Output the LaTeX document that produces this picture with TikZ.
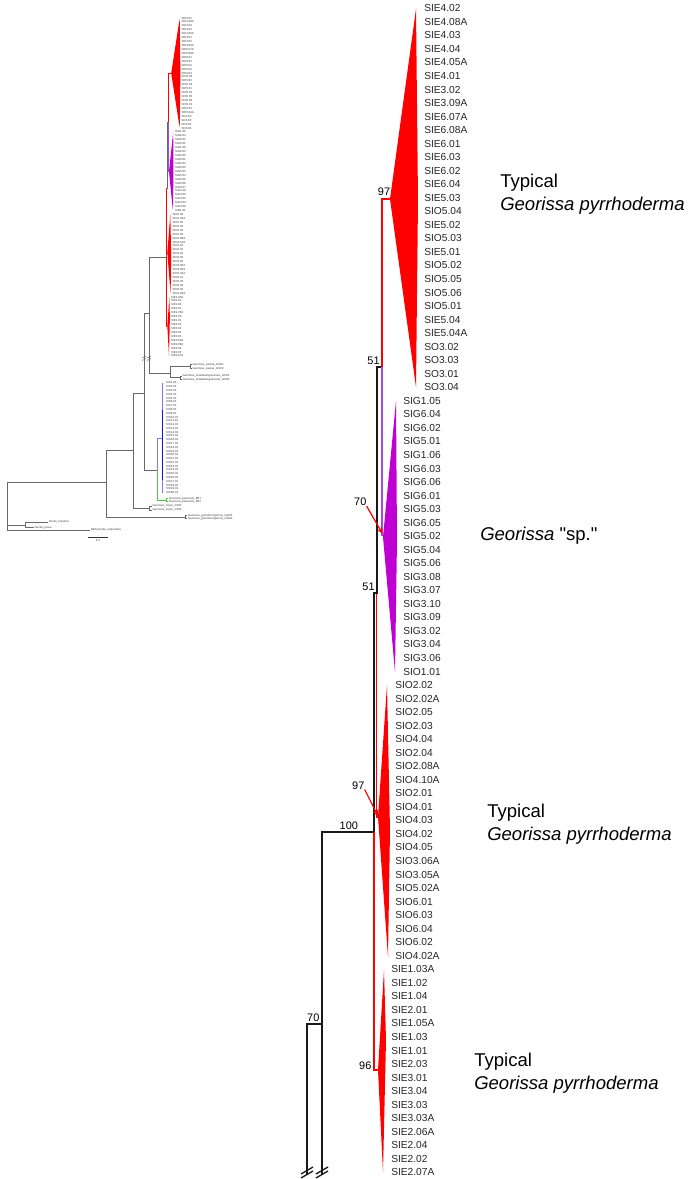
\documentclass[tikz,border=0pt]{standalone}
\usepackage{fontspec}
\setmainfont{Liberation Sans}
\usetikzlibrary{arrows.meta}

\definecolor{cladered}{RGB}{255,0,0}
\definecolor{cladepurple}{RGB}{190,0,210}
\definecolor{linepurple}{RGB}{165,75,215}
\definecolor{cladeblue}{RGB}{20,20,225}
\definecolor{lightblue}{RGB}{120,120,255}
\definecolor{cladegreen}{RGB}{70,200,70}
\definecolor{thumbgray}{RGB}{105,105,105}

\newcommand{\sq}{\XeTeXglyph\XeTeXcharglyph"22\relax}
\newcommand{\tipsA}{SIE4.02,SIE4.08A,SIE4.03,SIE4.04,SIE4.05A,SIE4.01,SIE3.02,SIE3.09A,SIE6.07A,SIE6.08A,SIE6.01,SIE6.03,SIE6.02,SIE6.04,SIE5.03,SIO5.04,SIE5.02,SIO5.03,SIE5.01,SIO5.02,SIO5.05,SIO5.06,SIO5.01,SIE5.04,SIE5.04A,SO3.02,SO3.03,SO3.01,SO3.04}
\newcommand{\tipsB}{SIG1.05,SIG6.04,SIG6.02,SIG5.01,SIG1.06,SIG6.03,SIG6.06,SIG6.01,SIG5.03,SIG6.05,SIG5.02,SIG5.04,SIG5.06,SIG3.08,SIG3.07,SIG3.10,SIG3.09,SIG3.02,SIG3.04,SIG3.06,SIO1.01}
\newcommand{\tipsC}{SIO2.02,SIO2.02A,SIO2.05,SIO2.03,SIO4.04,SIO2.04,SIO2.08A,SIO4.10A,SIO2.01,SIO4.01,SIO4.03,SIO4.02,SIO4.05,SIO3.06A,SIO3.05A,SIO5.02A,SIO6.01,SIO6.03,SIO6.04,SIO6.02,SIO4.02A}
\newcommand{\tipsD}{SIE1.03A,SIE1.02,SIE1.04,SIE2.01,SIE1.05A,SIE1.03,SIE1.01,SIE2.03,SIE3.01,SIE3.04,SIE3.03,SIE3.03A,SIE2.06A,SIE2.04,SIE2.02,SIE2.07A}

\begin{document}
\begin{tikzpicture}[x=0.75pt,y=-0.75pt,
  tiplab/.style={anchor=west,inner sep=0pt,font=\fontsize{7.65}{9}\selectfont,text=black!85},
  thumblab/.style={anchor=west,inner sep=0.2pt,font=\fontsize{2.2}{2.6}\selectfont,text=black!75},
  boot/.style={inner sep=0pt,font=\fontsize{8.2}{9}\selectfont},
  bigtag/.style={anchor=west,align=left,inner sep=0pt,font=\fontsize{13.9}{17.25}\selectfont},
  branch/.style={line width=1pt,black!90},
  redbranch/.style={line width=1pt,cladered},
  twig/.style={line width=0.35pt,thumbgray},
  bootarrow/.style={cladered,line width=0.9pt,-{Stealth[length=5pt,width=4pt]}}]

 \useasboundingbox (0,0) rectangle (693,1179);

 % ---- main tree: collapsed clades ----
 \fill[cladered] (390,199) -- (416,9) -- (418,200) -- (416,387) -- cycle;
 \fill[cladepurple] (383,537) -- (396,401) -- (397,540) -- (395,672) -- cycle;
 \fill[cladered] (378,817) -- (387,685) -- (390,830) -- (388,957) -- cycle;
 \fill[cladered] (378,1070) -- (384,970) -- (386,1040) -- (383,1172) -- cycle;

 % ---- main tree: branches ----
 \draw[branch] (307,1174) -- (307,1024) -- (322,1024);
 \draw[branch] (322,1174) -- (322,832) -- (374,832) -- (374,593) -- (377,593) -- (377,367) -- (382,367);
 \draw[redbranch] (374,832) -- (374,1070) -- (378,1070);
 \draw[redbranch] (376.5,594) -- (376.5,817) -- (379,817);
 \draw[redbranch] (382,367) -- (382,199) -- (391,199);
 \draw[line width=1pt,linepurple] (382,367) -- (382,536);
 \foreach \bx in {307,322} {
   \draw[branch] (\bx-6,1174) -- (\bx+6,1167);
   \draw[branch] (\bx-6,1178) -- (\bx+6,1171);
 }

 % ---- support values ----
 \node[boot] (b97a) at (384,192) {97};
 \node[boot] (b51a) at (373.5,360.5) {51};
 \node[boot] (b70a) at (360.3,502) {70};
 \node[boot] (b51b) at (368.5,587) {51};
 \node[boot] (b97b) at (358.3,785.3) {97};
 \node[boot] (b100) at (348.8,825.5) {100};
 \node[boot] (b70b) at (313.3,1018) {70};
 \node[boot] (b96) at (365.3,1065.3) {96};
 \coordinate (n70) at (382.7,534);
 \coordinate (n97) at (378.3,816.7);
 \draw[bootarrow] (b70a.south east) -- (n70);
 \draw[bootarrow] (b97b.south east) -- (n97);

 % ---- tip labels ----
 \foreach \lab [count=\i from 0] in \tipsA \node[tiplab] (lA\i) at (424,{8.3+\i*13.535}) {\lab};
 \foreach \lab [count=\i from 29] in \tipsB \node[tiplab] (lB\i) at (403,{8.3+\i*13.535}) {\lab};
 \foreach \lab [count=\i from 50] in \tipsC \node[tiplab] (lC\i) at (395,{8.3+\i*13.535}) {\lab};
 \foreach \lab [count=\i from 71] in \tipsD \node[tiplab] (lD\i) at (391,{8.3+\i*13.535}) {\lab};

 % ---- clade names ----
 \node[bigtag] (tagA) at (500,194.5) {Typical\\\textit{Georissa pyrrhoderma}};
 \node[bigtag] (tagB) at (480,536) {\textit{Georissa} \sq sp.\sq};
 \node[bigtag] (tagC) at (487,824) {Typical\\\textit{Georissa pyrrhoderma}};
 \node[bigtag] (tagD) at (474,1073) {Typical\\\textit{Georissa pyrrhoderma}};

 % ---- thumbnail of the whole tree ----
 \fill[cladered] (171.2,73.3) -- (179.7,18.2) -- (180.4,73.7) -- (179.7,127.9) -- cycle;
 \fill[cladepurple] (169,171.5) -- (173.2,132) -- (173.5,172.4) -- (172.9,210.7) -- cycle;
 \fill[cladered] (167.3,252.8) -- (170.3,214.5) -- (171.2,256) -- (170.6,293.5) -- cycle;
 \fill[cladered] (167.3,326.3) -- (169.3,297.3) -- (169.9,317) -- (169,355.9) -- cycle;
 \draw[twig,cladered] (171.2,73.3) -- (168.6,73.3) -- (168.6,122.2);
 \draw[twig,linepurple] (168.6,122.2) -- (168.6,171.5) -- (169,171.5);
 \draw[twig] (168.6,122.2) -- (167,122.2) -- (167,187.8) -- (166,187.8) -- (166,257.2) -- (149,257.2) -- (149,373);
 \draw[twig,cladered] (166.7,188.5) -- (166.7,252.8) -- (167.3,252.8);
 \draw[twig,cladered] (166,257.2) -- (166,326.3) -- (167.3,326.3);
 \draw[twig] (149,312.9) -- (144.1,312.9) -- (144.1,470);
 \foreach \bx in {144.1,149} \draw[twig] (\bx-2,358) -- (\bx+2,356) (\bx-2,360.5) -- (\bx+2,358.5);

 \foreach \lab [count=\i from 0] in \tipsA \node[thumblab] (tA\i) at (181,{18+\i*3.93}) {\lab};
 \foreach \lab [count=\i from 29] in \tipsB \node[thumblab] (tB\i) at (174.5,{18+\i*3.93}) {\lab};
 \foreach \lab [count=\i from 50] in \tipsC \node[thumblab] (tC\i) at (172,{18+\i*3.93}) {\lab};
 \foreach \lab [count=\i from 71] in \tipsD \node[thumblab] (tD\i) at (170.5,{18+\i*3.93}) {\lab};

 % saulae / kinabatanganensis
 \draw[twig] (149,373) -- (170,373);
 \draw[twig] (170,366.5) -- (170,377.7);
 \draw[twig] (170,366.5) -- (190,366.5);
 \draw[twig] (192,364.5) -| (190,368.5) -- (192,368.5);
 \draw[twig] (170,377.7) -- (180,377.7);
 \draw[twig] (182,376) -| (180,379.5) -- (182,379.5);
 \node[thumblab] (sa1) at (192,364.5) {Georissa\_saulae\_GS01};
 \node[thumblab] (sa2) at (192,368.5) {Georissa\_saulae\_GS02};
 \node[thumblab] (ki1) at (182,376) {Georissa\_kinabatanganensis\_GK01};
 \node[thumblab] (ki2) at (182,379.5) {Georissa\_kinabatanganensis\_GK02};

 % blue and green clades
 \draw[twig] (144.1,470) -- (157.3,470);
 \draw[twig,lightblue] (157.3,438) -- (157.3,470);
 \draw[twig,cladegreen] (157.3,470) -- (157.3,500) -- (166,500);
 \draw[twig,cladegreen] (168,498.3) -| (166,501.7) -- (168,501.7);
 \draw[twig,lightblue] (157.3,438) -- (162.3,438);
 \draw[twig,lightblue] (162.3,383) -- (162.3,493);
 \draw[line width=0.7pt,cladeblue] (162.3,410) -- (162.3,480);
 \foreach \k in {1,...,30} \node[thumblab] (tE\k) at (165.7,{379.2+\k*3.78}) {SIK\k.01};
 \node[thumblab] (ba1) at (168.5,498.3) {Georissa\_bauensis\_B01};
 \node[thumblab] (ba2) at (168.5,501.7) {Georissa\_bauensis\_B02};

 % hosei, gomantongensis, outgroups
 \draw[twig] (144.1,393) -- (133.3,393) -- (133.3,508) -- (149.5,508);
 \draw[twig] (151.7,506) -| (149.5,510) -- (151.7,510);
 \node[thumblab] (ho1) at (152,506) {Georissa\_hosei\_C301};
 \node[thumblab] (ho2) at (152,510) {Georissa\_hosei\_C302};
 \draw[twig] (133.3,450) -- (106.7,450) -- (106.7,517) -- (185,517);
 \draw[twig] (187,515.3) -| (185,518.7) -- (187,518.7);
 \node[thumblab] (go1) at (187.5,515.3) {Georissa\_gomantongensis\_GG01};
 \node[thumblab] (go2) at (187.5,518.7) {Georissa\_gomantongensis\_GG02};
 \draw[twig] (106.7,482) -- (7.3,482) -- (7.3,530) -- (90,530);
 \draw[twig] (7.3,525) -- (25,525);
 \draw[twig] (48,522) -| (25,527.5) -- (34,527.5);
 \node[thumblab] (ne1) at (48.5,522) {Nerita\_maxima};
 \node[thumblab] (ne2) at (34.5,527.5) {Nerita\_picea};
 \node[thumblab] (bn) at (90.5,530) {Bathynerita\_naticoidea};
 \draw[line width=0.35pt,black!80] (88,537) -- (108,537);
 \node[thumblab,anchor=center] (sc) at (98,540.5) {0.2};
\end{tikzpicture}
\end{document}
